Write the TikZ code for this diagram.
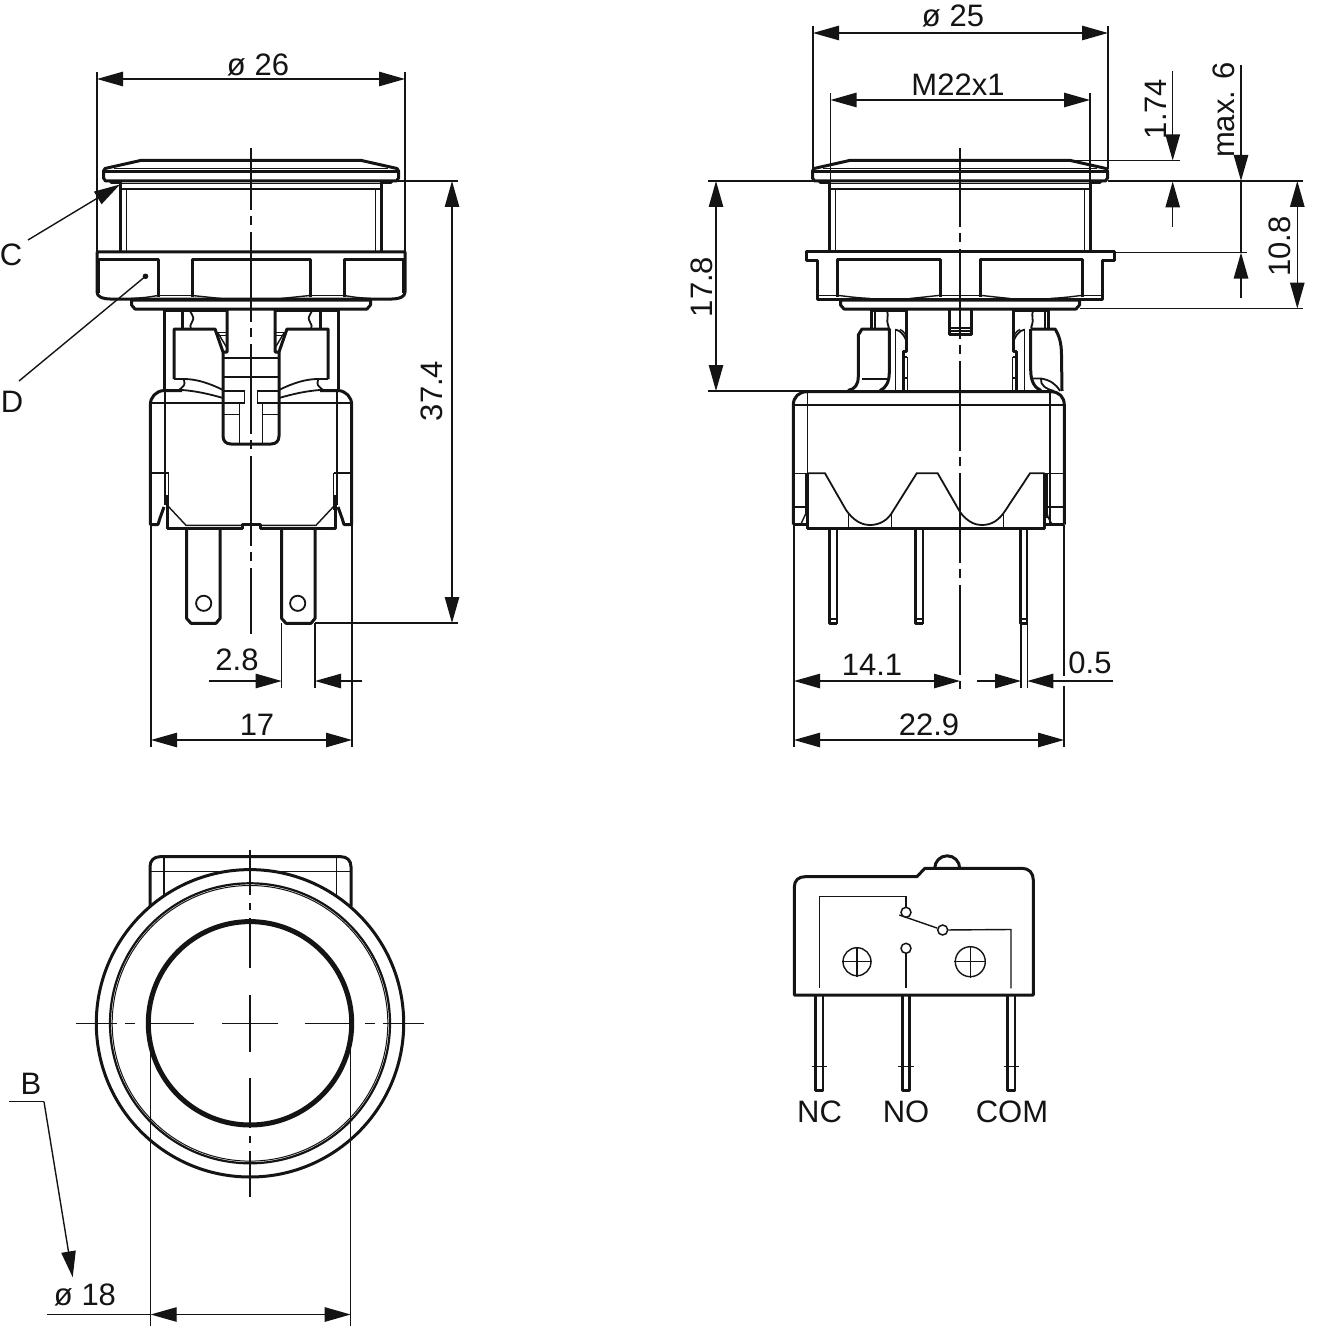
\documentclass[tikz,border=0pt]{standalone}
\usepackage{fontspec}
\setmainfont{Liberation Sans}
\usetikzlibrary{arrows.meta}
\definecolor{ink}{HTML}{141414}
\tikzset{
  thk/.style={draw=ink,line width=1.5pt,line join=round},
  med/.style={draw=ink,line width=0.9pt},
  thn/.style={draw=ink,line width=0.7pt},
  ctr/.style={draw=ink,line width=0.7pt},
  ext/.style={draw=ink,line width=0.7pt},
  dimb/.style={draw=ink,line width=0.7pt,{Triangle[length=13pt,width=7.2pt,fill=ink]}-{Triangle[length=13pt,width=7.2pt,fill=ink]}},
  dime/.style={draw=ink,line width=0.7pt,-{Triangle[length=13pt,width=7.2pt,fill=ink]}},
  lbl/.style={font=\fontsize{15.5}{18}\selectfont,text=ink,inner sep=0pt},
}
% half of cap, bezel: dx measured from the axis
\newcommand{\capHalf}{
  \draw[thk] (0,160.5)--(110.5,160.5)--(146,168.5)--(147.5,171)--(147.5,178)--(145.5,181)--(0,181);
  \draw[thk] (0,172)--(147.5,172);
  \draw[thn] (0,168.7)--(137,168.7);
  \fill[ink] (130,181)--(143,181)--(140,184)--(130,184)--cycle;
  \draw[thn] (0,183.5)--(130,183.5);
  \draw[thn] (0,189)--(130,189);
  \draw[thk] (130.5,181)--(130.5,252);
  \draw[thn] (124.5,189)--(124.5,252);
  \draw[thk] (0,300)--(119.5,300)--(119.5,305)--(116,309)--(0,309);
}
% left view, right half
\newcommand{\viewAHalf}{
  \capHalf
  \draw[thk] (0,252)--(154,252)--(154,292) .. controls (154,297) and (148,299) .. (141,299)--(0,299);
  \draw[thn] (152,260)--(152,293);
  \draw[thk] (153,259.5)--(93,259.5)--(93,297);
  \draw[thk] (0,259.5)--(59,259.5)--(59,297);
  \draw[thn] (59,295.3)--(93,295.3);
  \draw[thn] (59,295.5) .. controls (45,297.5) .. (30,298.5);
  \draw[thn] (93,295.5) .. controls (105,297.5) .. (120,298.5);
  % upper body
  \draw[thk] (24,310.5)--(87,310.5)--(87,390);
  \draw[thk] (69,311)--(69,329);
  \draw[med] (61,311) .. controls (57,318) .. (59,322) .. controls (61,326) .. (60,329);
  \draw[thk] (24,310)--(24,352)--(28,352)--(28,436) .. controls (28,441) and (25,444) .. (20,444)--(0,444);
  \draw[thk] (77,379)--(77,329)--(36,329)--(28,352);
  \draw[thn] (24,332.5)--(35,332.5);
  \draw[thn] (24,335.5)--(34,335.5);
  \draw[thn] (24,348)--(33,333);
  \draw[thn] (0,358)--(28,358);
  \draw[thn] (0,377)--(28,377);
  \draw[med] (28,390) .. controls (42,383) and (55,379) .. (67,379)--(77,379);
  \draw[med] (28,398) .. controls (42,394) and (55,391) .. (69,390);
  \draw[med] (67,380) .. controls (66,385) .. (72,390);
  % block
  \draw[thk] (69,390.5)--(87,390.5) .. controls (95,391) and (100.7,397) .. (100.7,405)--(100.7,524.5)--(93,524.5) .. controls (91,518) .. (87,507);
  \draw[thn] (28,403)--(100.7,403);
  \draw[thn] (86,391)--(86,505);
  \draw[thn] (82.5,473)--(99.5,473);
  \draw[thn] (82.5,473)--(82.5,510);
  \draw[thk] (84,495)--(84,528.3)--(9,528.3)--(9,524)--(0,524);
  \draw[thn] (9,525.3)--(65,525.3)--(84,505);
  % plunger details
  \draw[thn] (6.3,391)--(28,391);
  \draw[thn] (6.3,391)--(6.3,403)--(28,403);
  \draw[thn] (11.7,403)--(11.7,444);
  \draw[thn] (11.7,414.5)--(28,414.5);
}
% right view, inner details of the stem (dx from axis)
\newcommand{\viewBHalf}{
  \capHalf
  \draw[thk] (0,252)--(154,252)--(154,260)--(142.5,260)--(142.5,299)--(0,299);
  \draw[thk] (20,297)--(20,259.5)--(122.5,259.5)--(122.5,297);
  \draw[thn] (20,295.3) .. controls (40,297.5) .. (50,298.5);
  \draw[thn] (122.5,295.3) .. controls (105,297.5) .. (90,298.5);
  \draw[thn] (0,295.5)--(20,295.5);
  \draw[thn] (122.5,295.5)--(142,295.5);
  % stem
  \draw[thk] (53.3,310)--(88.5,310)--(88.5,329);
  \draw[thk] (53.3,310)--(53.3,351)--(56.7,351)--(56.7,391);
  \draw[thn] (85,311)--(85,329);
  \draw[med] (73,310.5) .. controls (71,316) and (74,320) .. (72,325) .. controls (71,327) .. (72,329);
  \draw[thn] (52.7,357)--(52.7,391);
  \draw[thn] (64.7,329)--(64.7,391);
  \draw[thn] (52.7,357)--(56.7,357);
  \draw[thn] (52.7,378)--(56.7,378);
  \draw[med] (53.3,345) .. controls (53,337) and (60,330) .. (64.7,329.5);
  \draw[thn] (53.3,340) .. controls (53.5,335) and (56,331) .. (60,329.5);
}
\begin{document}
\begin{tikzpicture}[x=0.5pt,y=-0.5pt]
\useasboundingbox (0,0) rectangle (1317,1332);
\fill[white] (0,0) rectangle (1317,1332);

%============ left view
\begin{scope}[shift={(251,0)}] \viewAHalf \end{scope}
\begin{scope}[shift={(251,0)},xscale=-1] \viewAHalf \end{scope}
\fill[ink] (145.5,276.3) circle (2.8);
% flat terminals
\draw[thk] (186.7,528)--(186.7,618.5)--(191,623.3)--(216,623.3)--(220,618.5)--(220,528);
\draw[thk] (281.7,528)--(281.7,618.5)--(286,623.3)--(311,623.3)--(315,618.5)--(315,528);
\draw[med] (203.7,603.3) circle (7.6);
\draw[med] (297.7,603.3) circle (7.6);
% axis
\draw[ctr,dash pattern=on 45pt off 3pt on 4.5pt off 3.5pt,dash phase=14pt] (251,148)--(251,634);

% dimensions, left view
\draw[ext] (97,72)--(97,252);
\draw[ext] (405,72)--(405,252);
\draw[dimb] (97,79)--(405,79);
\node[lbl] (d26) at (258,65) {ø 26};
\draw[ext] (398,181)--(458,181);
\draw[ext] (315,623)--(458,623);
\draw[dimb] (452,181)--(452,623);
\node[lbl,rotate=90] (d374) at (432,391) {37.4};
\draw[ext] (151,525)--(151,747);
\draw[ext] (352,525)--(352,747);
\draw[ext] (281.7,623)--(281.7,688);
\draw[ext] (315,623)--(315,688);
\draw[dimb] (151,740)--(352,740);
\node[lbl] (d17) at (257,725) {17};
\draw[dime] (209,681)--(281.7,681);
\draw[dime] (362,681)--(315,681);
\node[lbl] (d28) at (237,660) {2.8};
\node[lbl] (C) at (11,255) {C};
\draw[dime] (28,240)--(120,184.5);
\node[lbl] (D) at (12,402) {D};
\draw[ext] (19,381)--(145.5,276.3);

%============ right view
\begin{scope}[shift={(960,0)}] \viewBHalf \end{scope}
\begin{scope}[shift={(960,0)},xscale=-1] \viewBHalf \end{scope}
% stem outer
\draw[thk] (848,390.5) .. controls (855,389) and (858.3,385) .. (858.3,376)--(858.3,335)--(862,329)--(889.3,329)--(889.3,372) .. controls (889.3,382) and (886,388) .. (880,390.5);
\draw[thn] (862,379)--(889,379);
\draw[thk] (1030.7,329)--(1055,329) .. controls (1059,335) and (1061.5,343) .. (1061.5,355)--(1062,391);
\draw[thk] (1030.7,329)--(1030.7,370) .. controls (1030.7,382) and (1035,388) .. (1041,390.5);
\draw[med] (1030.7,378.5)--(1041,378.5) .. controls (1050,380) and (1056,384) .. (1060,391);
\draw[med] (1041,379) .. controls (1040,385) and (1046,389) .. (1054,391);
% centre stud
\draw[thk] (949,310)--(949,334.3)--(971.7,334.3)--(971.7,310);
\draw[med] (949,328.3)--(971.7,328.3);
\draw[thn] (949,331)--(971.7,331);
% housing
\draw[thk] (793.3,524.5)--(793.3,405) .. controls (793.3,397) and (799,391.7) .. (807,391.7)--(1051,391.7) .. controls (1059,391.7) and (1064.3,397) .. (1064.3,405)--(1064.3,524.5);
\draw[thk] (793.3,524.5)--(807.7,524.5);
\draw[thk] (1044.5,524.5)--(1064.3,524.5);
\draw[thn] (793.3,405)--(1064.3,405);
\draw[thn] (807.7,391.7)--(807.7,473);
\draw[thn] (1050,391.7)--(1050,524.5);
\draw[thk] (807.7,473.3)--(807.7,528.3)--(1044.5,528.3)--(1044.5,473.3);
\draw[thn] (805.5,473.3)--(805.5,515);
\draw[thn] (1046.8,473.3)--(1046.8,518);
\draw[thn] (793.3,473.3)--(807.7,473.3);
\draw[thn] (793.3,507)--(806,507);
\draw[thn] (1047,507)--(1064.3,507);
\draw[thn] (1044.5,473.3)--(1064.3,473.3);
\draw[thn] (801,524) -- (806,513);
\draw[thn] (1047,512) .. controls (1048,518) .. (1052,524);
% wave
\draw[med] (807.7,473.3)--(825,473.3)--(846,510) .. controls (853,520) and (861,525) .. (870,525) .. controls (880,525) and (888,520) .. (893,511)--(916.7,473.3)--(937.7,473.3)--(960,512) .. controls (966,520) and (973,525) .. (982,525) .. controls (992,525) and (999,520) .. (1005,511)--(1030,473.3)--(1044.5,473.3);
\draw[thn] (848.3,514)--(848.3,528);
\draw[thn] (891.7,514)--(891.7,528);
\draw[thn] (1003.3,514)--(1003.3,528);
% pins
\foreach \px/\qx in {829.5/836.7,915.7/922.7,1020.5/1027.3}{
  \draw[thk] (\px,528)--(\px,623.5)--(\qx,623.5);
  \draw[thk,line width=1.1pt] (\qx,528)--(\qx,623.5);
  \draw[thn] (\px,619)--(\qx,619);
}
% axis
\draw[ctr,dash pattern=on 45pt off 3pt on 4.5pt off 3.5pt,dash phase=5.5pt] (960,148)--(960,689);

% dimensions, right view
\draw[ext] (813,26)--(813,169);
\draw[ext] (1108,26)--(1108,169);
\draw[dimb] (813,33)--(1108,33);
\node[lbl] (d25) at (953,16) {ø 25};
\draw[ext] (830.5,93)--(830.5,181);
\draw[ext] (1090,93)--(1090,181);
\draw[dimb] (830.5,100)--(1090,100);
\node[lbl] (m22) at (958,85) {M22x1};
\draw[ext] (1070,160.5)--(1180,160.5);
\draw[dime] (1172.7,71)--(1172.7,160.5);
\draw[dime] (1172.7,227)--(1172.7,181.5);
\node[lbl,rotate=90] (d174) at (1155.5,109) {1.74};
\draw[ext] (708,181)--(813,181);
\draw[ext] (1108,181)--(1303,181);
\draw[dime] (1241,65)--(1241,181);
\draw[dime] (1241,298)--(1241,252.5);
\draw[ext] (1241,181)--(1241,252.5);
\draw[ext] (1114,252.5)--(1247,252.5);
\node[lbl,rotate=90] (max6) at (1223.5,110) {max. 6};
\draw[ext] (1080,308.5)--(1303,308.5);
\draw[dimb] (1297.3,181)--(1297.3,308.5);
\node[lbl,rotate=90] (d108) at (1280,246.7) {10.8};
\draw[ext] (708,391)--(850,391);
\draw[dimb] (716,181)--(716,391);
\node[lbl,rotate=90] (d178) at (702,287) {17.8};
\draw[ext] (794,525)--(794,747);
\draw[ext] (1064,525)--(1064,676);
\draw[ext] (1064,686)--(1064,747);
\draw[ext] (1021,623)--(1021,688);
\draw[ext] (1027.3,623)--(1027.3,688);
\draw[dimb] (794,681)--(960,681);
\node[lbl] (d141) at (872,665) {14.1};
\draw[dime] (977,681)--(1021,681);
\draw[dime] (1113,681)--(1027.3,681);
\node[lbl] (d05) at (1090,663) {0.5};
\draw[dimb] (794,740)--(1064,740);
\node[lbl] (d229) at (929,725) {22.9};

%============ front view
\draw[thk] (150,906.6)--(150,866.7) .. controls (150,860.5) and (154,856.7) .. (160,856.7)--(341,856.7) .. controls (347,856.7) and (351,860.5) .. (351,866.7)--(351,906.6);
\draw[thn] (164,856.7)--(164,896);
\draw[thn] (336.7,856.7)--(336.7,896);
\draw[thn] (150,871.7)--(225,871.7);
\draw[thn] (275,871.7)--(351,871.7);
\draw[thk] (250,1023.3) circle (153.7);
\draw[med,line width=1.1pt] (250,1023.3) circle (140);
\draw[thn,line width=0.5pt] (250,1023.3) circle (137.8);
\draw[draw=ink,line width=2.5pt] (250,1023.3) circle (101.7);
\foreach \a/\b in {76/117,125/135,147/194,222/278,305/353,365/375,383/424}{
  \draw[ctr] (\a,1023.3)--(\b,1023.3);
}
\foreach \a/\b in {850/895,903/910,918/968,995/1052,1078/1128,1136/1143,1151/1197}{
  \draw[ctr] (250,\a)--(250,\b);
}
\draw[ext] (150.7,1048)--(150.7,1326);
\draw[ext] (350.7,1048)--(350.7,1326);
\draw[dimb] (150.7,1314.5)--(350.7,1314.5);
\draw[ext] (46.7,1314.5)--(150.7,1314.5);
\node[lbl] (d18) at (85,1295) {ø 18};
\node[lbl] (B) at (31,1084) {B};
\draw[ext] (9.3,1101.7)--(44,1101.7);
\draw[dime] (44,1101.7)--(72.7,1277.3);

%============ switch symbol
\draw[thk] (794.3,995)--(794.3,887) .. controls (794.3,880) and (799,876.7) .. (805,876.7)--(916.7,876.7)--(925,868.3)--(1022,868.3) .. controls (1029,868.3) and (1033.3,873) .. (1033.3,880)--(1033.3,995)--cycle;
\draw[thk] (934.7,868.3) arc[start angle=180,end angle=360,radius=12.5];
\coordinate (nc) at (819.3,988.3);
\coordinate (no) at (906,988.3);
\coordinate (com) at (1011,988.3);
\node[circle,draw=ink,line width=0.75pt,minimum size=5pt,inner sep=0pt] (c1) at (906,912.3) {};
\node[circle,draw=ink,line width=0.75pt,minimum size=5pt,inner sep=0pt] (c2) at (942.7,930) {};
\node[circle,draw=ink,line width=0.75pt,minimum size=5pt,inner sep=0pt] (c3) at (906,948.3) {};
\draw[thn] (nc)--(819.3,896.7)--(906,896.7)--(c1);
\draw[thn] (899.3,915)--(c2);
\draw[thn] (c2)--(1011,929.5)--(com);
\draw[thn] (c3)--(no);
\foreach \sx/\sr in {857/14,970.3/15}{
  \draw[thn] (\sx,961.7) circle (\sr);
  \draw[thn] (\sx-\sr-1,961.7)--(\sx+\sr+1,961.7);
  \draw[thn] (\sx,961.7-\sr-1)--(\sx,961.7+\sr+1);
}
\foreach \px/\qx in {815.7/823,902.3/909.7,1007.7/1015}{
  \draw[thk,line width=1.4pt] (\px,995)--(\px,1090.7)--(\qx,1090.7)--(\qx,995);
  \draw[thn] (\px-4,1066.7)--(\qx+4,1066.7);
}
\node[lbl] (NC) at (819.5,1112) {NC};
\node[lbl] (NO) at (906,1112) {NO};
\node[lbl] (COM) at (1012,1112) {COM};
\end{tikzpicture}
\end{document}
